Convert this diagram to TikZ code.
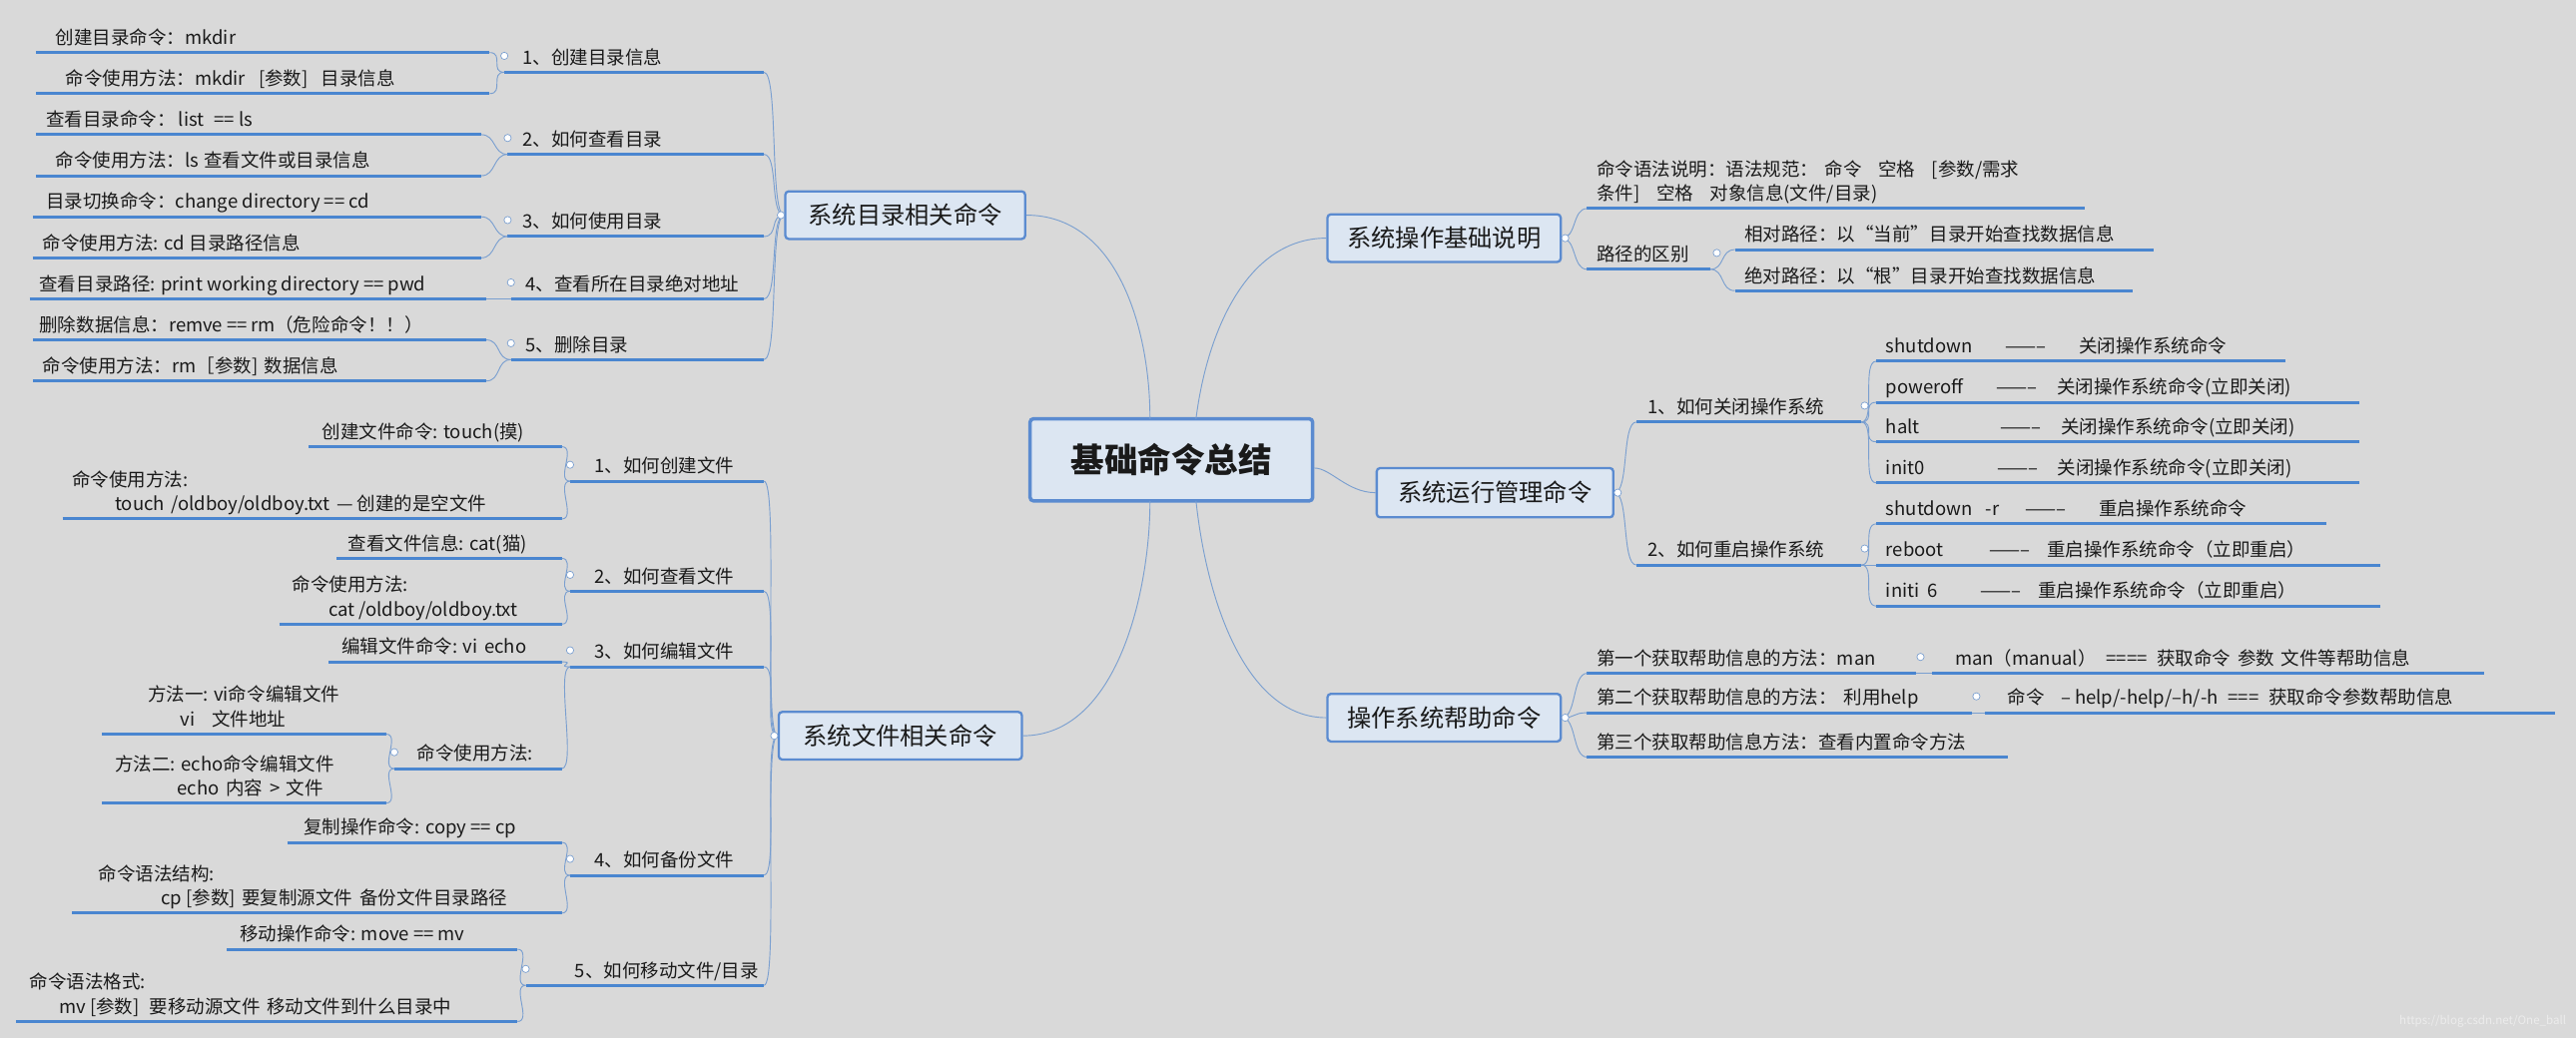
\documentclass[tikz,border=0pt]{standalone}
\usepackage{fontspec}
\setmainfont{Noto Sans CJK SC}
\usetikzlibrary{calc}
\definecolor{bg}{HTML}{D9D9D9}
\definecolor{ulc}{HTML}{4A86D0}
\definecolor{cnc}{HTML}{7A9FD0}
\definecolor{nfill}{HTML}{DCE6F2}
\definecolor{nbord}{HTML}{5B8BD0}
\definecolor{tc}{HTML}{1A1A1A}
\tikzset{
 ul/.style={ulc,line width=2.6pt},
 conn/.style={cnc,line width=0.8pt},
 txt/.style={inner sep=0pt,outer sep=0pt,text=tc,font=\fontsize{16}{21}\selectfont,align=left},
 branch/.style={draw=nbord,fill=nfill,line width=2pt,rounded corners=3pt,text=tc,font=\fontsize{21}{25}\selectfont,inner sep=0pt},
 dot/.style={circle,draw=cnc,fill=white,line width=0.6pt,inner sep=0pt,minimum size=2.2mm},
}
\newcommand\Lf[6]{%
 \coordinate (#1-l) at (#2,#4); \coordinate (#1-r) at (#3,#4);
 \draw[ul] (#1-l) -- (#1-r);
 \node[txt,anchor=base west] (#1) at (#5,#4-5) {#6};}
\newcommand\CL[2]{\draw[conn] (#1) .. controls +(-9,0) and +(9,0) .. (#2);}
\newcommand\CR[2]{\draw[conn] (#1) .. controls +(9,0) and +(-9,0) .. (#2);}
\begin{document}
\begin{tikzpicture}[x=0.5mm,y=-0.5mm]
\fill[bg] (0,0) rectangle (1568,632);
\useasboundingbox (0,0) rectangle (1568,632);
% center
\node[branch,line width=3pt,minimum width=86mm,minimum height=25mm,font=\fontsize{29}{33}\selectfont\bfseries] (M) at (713,280) {基础命令总结};
\node[branch,minimum width=73mm,minimum height=14.5mm] (D) at (551,131) {系统目录相关命令};
\node[branch,minimum width=74mm,minimum height=14.5mm] (F) at (548,448) {系统文件相关命令};
\node[branch,minimum width=71mm,minimum height=14.5mm] (A) at (879,145) {系统操作基础说明};
\node[branch,minimum width=72mm,minimum height=15mm] (B) at (910,300) {系统运行管理命令};
\node[branch,minimum width=71mm,minimum height=14.5mm] (C) at (879,437) {操作系统帮助命令};
\draw[conn] (D.east) .. controls (680,131) and (700,200) .. (700,255);
\draw[conn] (F.east) .. controls (680,448) and (700,360) .. (700,305);
\draw[conn] (A.west) .. controls (760,145) and (735,200) .. (728,255);
\draw[conn] (B.west) .. controls (820,300) and (810,285) .. (800,285);
\draw[conn] (C.west) .. controls (760,437) and (735,370) .. (728,305);

% ---- D branch
\Lf{s1}{307}{465}{44}{318}{1、创建目录信息}
\Lf{s2}{309}{465}{94}{318}{2、如何查看目录}
\Lf{s3}{309}{465}{144}{318}{3、如何使用目录}
\Lf{s4}{311}{465}{182}{320}{4、查看所在目录绝对地址}
\Lf{s5}{311}{465}{219}{320}{5、删除目录}
\Lf{d1a}{22}{298}{32}{34}{创建目录命令：mkdir}
\Lf{d1b}{22}{298}{57}{40}{命令使用方法：mkdir\hspace{4mm}[参数]\hspace{4mm}目录信息}
\Lf{d2a}{22}{293}{82}{28}{查看目录命令：\hspace{1mm}list\hspace{3mm}== ls}
\Lf{d2b}{22}{293}{107}{34}{命令使用方法：ls\hspace{1.5mm}查看文件或目录信息}
\Lf{d3a}{20}{293}{132}{28}{目录切换命令：change directory == cd}
\Lf{d3b}{20}{293}{157}{26}{命令使用方法: cd\hspace{1.5mm}目录路径信息}
\Lf{d4}{18}{296}{182}{24}{查看目录路径: print working directory == pwd}
\Lf{d5a}{20}{296}{207}{24}{删除数据信息：remve ==\hspace{1mm}rm（危险命令！！）}
\Lf{d5b}{20}{296}{232}{26}{命令使用方法：rm［参数]\hspace{2mm}数据信息}
\foreach \s in {s1,s2,s3,s4,s5} {\CL{D.west}{\s-r}}
\CL{s1-l}{d1a-r}\CL{s1-l}{d1b-r}
\CL{s2-l}{d2a-r}\CL{s2-l}{d2b-r}
\CL{s3-l}{d3a-r}\CL{s3-l}{d3b-r}
\draw[conn] (s4-l) -- (d4-r);
\CL{s5-l}{d5a-r}\CL{s5-l}{d5b-r}
\foreach \s in {s1,s2,s3,s4,s5} {\node[dot] at ($(\s-l)+(0,-10)$) {};}
\node[dot] at ($(D.west)+(-2,0)$) {};

% ---- F branch
\Lf{f1}{347}{465}{293}{362}{1、如何创建文件}
\Lf{f2}{347}{465}{360}{362}{2、如何查看文件}
\Lf{f3}{347}{465}{406}{362}{3、如何编辑文件}
\Lf{f4}{347}{465}{533}{362}{4、如何备份文件}
\Lf{f5}{320}{465}{600}{350}{5、如何移动文件/目录}
\Lf{g1a}{188}{342}{272}{196}{创建文件命令: touch(摸)}
\Lf{g1b}{38}{342}{316}{44}{命令使用方法:\\\hspace*{13mm}touch\hspace{2mm}/oldboy/oldboy.txt\hspace{2mm}--- 创建的是空文件}
\Lf{g2a}{205}{342}{340}{212}{查看文件信息: cat(猫)}
\Lf{g2b}{170}{342}{380}{178}{命令使用方法:\\\hspace*{11mm}cat /oldboy/oldboy.txt}
\Lf{g3a}{200}{342}{403}{208}{编辑文件命令: vi\hspace{2mm}echo}
\Lf{g3b}{240}{342}{468}{254}{命令使用方法:}
\Lf{h1}{62}{235}{447}{90}{方法一: vi命令编辑文件\\\hspace*{10mm}vi\hspace{5mm}文件地址}
\Lf{h2}{62}{235}{489}{70}{方法二: echo命令编辑文件\\\hspace*{19mm}echo\hspace{2mm}内容\hspace{2mm}>\hspace{2mm}文件}
\Lf{g4a}{175}{342}{513}{185}{复制操作命令: copy == cp}
\Lf{g4b}{44}{342}{556}{60}{命令语法结构:\\\hspace*{19mm}cp [参数]\hspace{2mm}要复制源文件\hspace{2mm}备份文件目录路径}
\Lf{g5a}{138}{315}{578}{146}{移动操作命令: move == mv}
\Lf{g5b}{10}{315}{622}{18}{命令语法格式:\\\hspace*{9mm}mv [参数]\hspace{3mm}要移动源文件\hspace{2mm}移动文件到什么目录中}
\foreach \s in {f1,f2,f3,f4,f5} {\CL{F.west}{\s-r}}
\CL{f1-l}{g1a-r}\CL{f1-l}{g1b-r}
\CL{f2-l}{g2a-r}\CL{f2-l}{g2b-r}
\CL{f3-l}{g3a-r}\CL{f3-l}{g3b-r}
\CL{g3b-l}{h1-r}\CL{g3b-l}{h2-r}
\CL{f4-l}{g4a-r}\CL{f4-l}{g4b-r}
\CL{f5-l}{g5a-r}\CL{f5-l}{g5b-r}
\foreach \s in {f1,f2,f3,f4,f5,g3b} {\node[dot] at ($(\s-l)+(0,-10)$) {};}
\node[dot] at ($(F.west)+(-2,0)$) {};

% ---- A branch
\Lf{a1}{966}{1269}{127}{972}{命令语法说明：语法规范：\hspace{2mm}命令\hspace{5mm}空格\hspace{5mm}[参数/需求\\条件]\hspace{5mm}空格\hspace{5mm}对象信息(文件/目录)}
\Lf{a2}{966}{1041}{164}{972}{路径的区别}
\Lf{a3}{1056}{1311}{152}{1062}{相对路径：以“当前”目录开始查找数据信息}
\Lf{a4}{1056}{1298}{177}{1062}{绝对路径：以“根”目录开始查找数据信息}
\CR{A.east}{a1-l}\CR{A.east}{a2-l}
\CR{a2-r}{a3-l}\CR{a2-r}{a4-l}
\node[dot] at ($(A.east)+(2,0)$) {};
\node[dot] at ($(a2-r)+(4,-10)$) {};

% ---- B branch
\Lf{b1}{996}{1133}{257}{1003}{1、如何关闭操作系统}
\Lf{b2}{996}{1133}{344}{1003}{2、如何重启操作系统}
\Lf{k1}{1142}{1391}{220}{1148}{shutdown\hspace{10mm}--------\hspace{10mm}关闭操作系统命令}
\Lf{k2}{1142}{1436}{245}{1148}{poweroff\hspace{10mm}--------\hspace{6mm}关闭操作系统命令(立即关闭)}
\Lf{k3}{1142}{1436}{269}{1148}{halt\hspace{24.5mm}--------\hspace{6mm}关闭操作系统命令(立即关闭)}
\Lf{k4}{1142}{1436}{294}{1148}{init0\hspace{22mm}--------\hspace{6mm}关闭操作系统命令(立即关闭)}
\Lf{k5}{1142}{1416}{319}{1148}{shutdown\hspace{4mm}-r\hspace{8mm}--------\hspace{10mm}重启操作系统命令}
\Lf{k6}{1142}{1449}{344}{1148}{reboot\hspace{14mm}--------\hspace{5mm}重启操作系统命令（立即重启）}
\Lf{k7}{1142}{1449}{369}{1148}{initi\hspace{2.5mm}6\hspace{13mm}--------\hspace{5mm}重启操作系统命令（立即重启）}
\CR{B.east}{b1-l}\CR{B.east}{b2-l}
\foreach \k in {k1,k2,k3,k4} {\CR{b1-r}{\k-l}}
\foreach \k in {k5,k6,k7} {\CR{b2-r}{\k-l}}
\node[dot] at ($(B.east)+(2,0)$) {};
\node[dot] at ($(b1-r)+(2,-10)$) {};
\node[dot] at ($(b2-r)+(2,-10)$) {};

% ---- C branch
\Lf{c1}{966}{1166}{410}{972}{第一个获取帮助信息的方法：man}
\Lf{c2}{1176}{1512}{410}{1190}{man（manual）\hspace{3mm}====\hspace{3mm}获取命令\hspace{2mm}参数\hspace{2mm}文件等帮助信息}
\Lf{c3}{966}{1200}{434}{972}{第二个获取帮助信息的方法：\hspace{2mm}利用help}
\Lf{c4}{1208}{1555}{434}{1222}{命令\hspace{5mm}-- help/-help/--h/-h\hspace{3mm}===\hspace{3mm}获取命令参数帮助信息}
\Lf{c5}{966}{1222}{461}{972}{第三个获取帮助信息方法：查看内置命令方法}
\CR{C.east}{c1-l}\CR{C.east}{c3-l}\CR{C.east}{c5-l}
\draw[conn] (c1-r) -- (c2-l); \draw[conn] (c3-r) -- (c4-l);
\node[dot] at ($(C.east)+(2,0)$) {};
\node[dot] at ($(c1-r)+(3,-10)$) {};
\node[dot] at ($(c3-r)+(3,-10)$) {};

\node[txt,text=white!85!gray,font=\fontsize{10}{12}\selectfont,anchor=east] (wm) at (1562,622) {https://blog.csdn.net/One\_ball};
\end{tikzpicture}
\end{document}
